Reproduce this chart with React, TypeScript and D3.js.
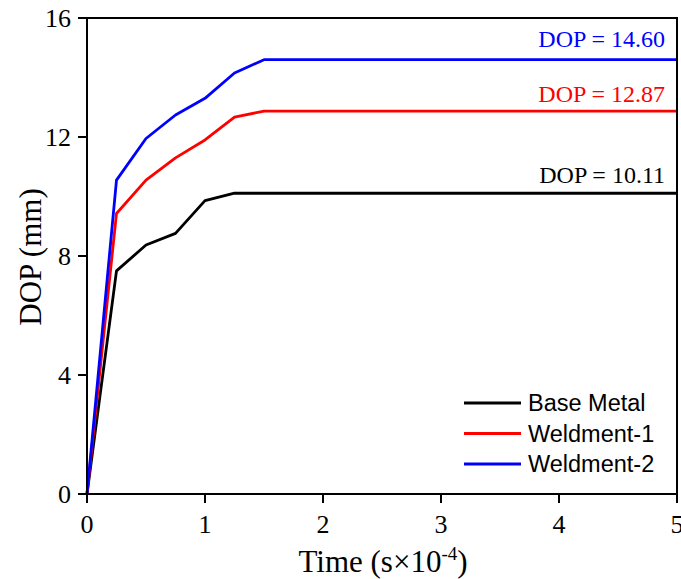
import React from "react";
import * as d3 from "d3";

const timeValues = [0, 0.25, 0.5, 0.75, 1.0, 1.25, 1.5, 5];
const baseMetal = [0, 7.5, 8.37, 8.76, 9.86, 10.11, 10.11, 10.11];
const weldment1 = [0, 9.43, 10.55, 11.3, 11.9, 12.67, 12.87, 12.87];
const weldment2 = [0, 10.55, 11.95, 12.74, 13.3, 14.15, 14.6, 14.6];
const seriesNames = ["Base Metal", "Weldment-1", "Weldment-2"];
const seriesColors = ["#000000", "#ff0000", "#0000ff"];
const finalDOP = ["10.11", "12.87", "14.60"];
const xTicks = [0, 1, 2, 3, 4, 5];
const yTicks = [0, 4, 8, 12, 16];

const W = 681;
const H = 579;
const M = { left: 87, right: 677, top: 18, bottom: 494 };

export default function App() {
  const x = d3.scaleLinear().domain([0, 5]).range([M.left, M.right]);
  const y = d3.scaleLinear().domain([0, 16]).range([M.bottom, M.top]);
  const line = d3
    .line<number>()
    .x((_, i) => x(timeValues[i]))
    .y((d) => y(d));
  const allSeries = [baseMetal, weldment1, weldment2];
  const serif = "'Liberation Serif', 'Times New Roman', serif";
  const sans = "'Liberation Sans', Arial, sans-serif";
  const labelOffsets = [10, 9, 13];

  return (
    <svg
      width={W}
      height={H}
      style={{ position: "absolute", left: 0, top: 0, background: "#fff" }}
    >
      <rect x={0} y={0} width={W} height={H} fill="#fff" />
      {allSeries.map((s, i) => (
        <path
          key={i}
          d={line(s) || ""}
          fill="none"
          stroke={seriesColors[i]}
          strokeWidth={2.8}
          strokeLinejoin="round"
        />
      ))}
      {/* frame */}
      <rect
        x={M.left}
        y={M.top}
        width={M.right - M.left}
        height={M.bottom - M.top}
        fill="none"
        stroke="#000"
        strokeWidth={2}
      />
      {/* y ticks */}
      {yTicks.map((t) => (
        <g key={"y" + t}>
          <line x1={M.left - 9} x2={M.left} y1={y(t)} y2={y(t)} stroke="#000" strokeWidth={2} />
          <text
            x={M.left - 16}
            y={y(t)}
            dy="0.35em"
            textAnchor="end"
            fontFamily={serif}
            fontSize={26}
            fill="#000"
          >
            {t}
          </text>
        </g>
      ))}
      {/* x ticks */}
      {xTicks.map((t) => (
        <g key={"x" + t}>
          <line x1={x(t)} x2={x(t)} y1={M.bottom} y2={M.bottom + 9} stroke="#000" strokeWidth={2} />
          <text
            x={x(t)}
            y={M.bottom + 39}
            textAnchor="middle"
            fontFamily={serif}
            fontSize={26}
            fill="#000"
          >
            {t}
          </text>
        </g>
      ))}
      {/* axis titles */}
      <text
        x={(M.left + M.right) / 2 + 1}
        y={572}
        textAnchor="middle"
        fontFamily={serif}
        fontSize={31}
        fill="#000"
      >
        Time (s×10
        <tspan dy={-12} fontSize={19}>-4</tspan>
        <tspan dy={12}>)</tspan>
      </text>
      <text
        transform={`translate(41, ${(M.top + M.bottom) / 2 + 1}) rotate(-90)`}
        textAnchor="middle"
        fontFamily={serif}
        fontSize={31}
        fill="#000"
      >
        DOP (mm)
      </text>
      {/* annotations */}
      {allSeries.map((s, i) => (
        <text
          key={"a" + i}
          x={x(5) - 12}
          y={y(s[s.length - 1]) - labelOffsets[i]}
          textAnchor="end"
          fontFamily={serif}
          fontSize={24}
          fill={seriesColors[i]}
        >
          {`DOP = ${finalDOP[i]}`}
        </text>
      ))}
      {/* legend */}
      {seriesNames.map((n, i) => (
        <g key={"l" + i} transform={`translate(464, ${403 + i * 30.5})`}>
          <line x1={0} x2={57} y1={0} y2={0} stroke={seriesColors[i]} strokeWidth={2.8} />
          <text x={64} y={0} dy="0.35em" fontFamily={sans} fontSize={23.5} fill="#000">
            {n}
          </text>
        </g>
      ))}
    </svg>
  );
}
